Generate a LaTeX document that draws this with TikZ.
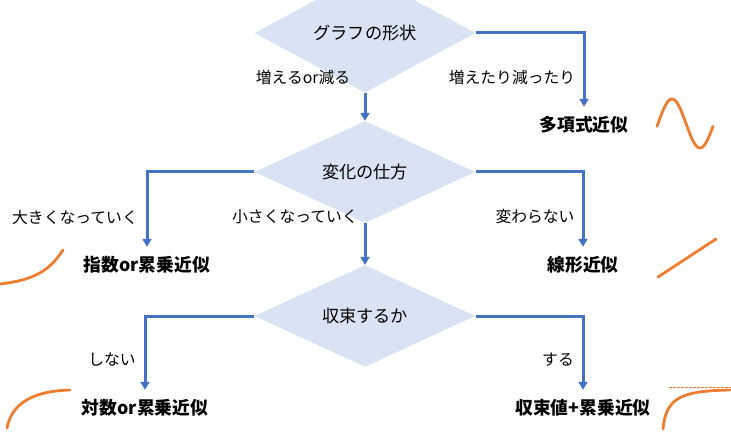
\documentclass[tikz,border=0pt]{standalone}
\usepackage{fontspec}
\setmainfont{Noto Sans CJK JP}
\usetikzlibrary{shapes.geometric,arrows.meta}
\definecolor{cblue}{HTML}{4472C4}
\definecolor{cfill}{HTML}{DAE3F3}
\definecolor{corange}{HTML}{ED7D31}
\tikzset{
  decision/.style={shape=diamond, fill=cfill, draw=none, minimum width=221pt, minimum height=66pt, inner sep=0pt, font=\fontsize{17.2}{20}\selectfont},
  result/.style={inner sep=0pt, minimum height=36pt, font=\bfseries\fontsize{17.8}{20}\selectfont},
  lbl/.style={inner sep=0pt, font=\fontsize{15.8}{18}\selectfont},
  conn/.style={draw=cblue, line width=3pt, -{Triangle[width=9pt,length=8pt]}},
  curve/.style={draw=corange, line width=2.8pt, line cap=round},
}
\begin{document}
\begin{tikzpicture}[x=1pt,y=-1pt]
\useasboundingbox (0,0) rectangle (731,433);
\node[decision] (d1) at (365,33) {グラフの形状};
\node[decision] (d2) at (365,172) {変化の仕方};
\node[decision] (d3) at (365,316) {収束するか};
\node[result] (r1) at (584,125) {多項式近似};
\node[result] (r2) at (147,265) {指数or累乗近似};
\node[result] (r3) at (583,265) {線形近似};
\node[result] (r4) at (145,408) {対数or累乗近似};
\node[result] (r5) at (583,408) {収束値+累乗近似};
\node[lbl] (l1) at (303,77) {増えるor減る};
\node[lbl] (l2) at (512,77) {増えたり減ったり};
\node[lbl] (l3) at (75,217) {大きくなっていく};
\node[lbl] (l4) at (295,217) {小さくなっていく};
\node[lbl] (l5) at (535,217) {変わらない};
\node[lbl] (l6) at (112,360) {しない};
\node[lbl] (l7) at (558,360) {する};
\draw[conn] (d1.east) -| (r1.north);
\draw[conn] (d1.south) -- (d2.north);
\draw[conn] (d2.west) -| (r2.north);
\draw[conn] (d2.east) -| (r3.north);
\draw[conn] (d2.south) -- (d3.north);
\draw[conn] (d3.west) -| (r4.north);
\draw[conn] (d3.east) -| (r5.north);
% orange sketches
\draw[curve] plot[domain=-1:55, samples=60, smooth] ({658+\x}, {123.5 - 24.5*sin(6.4286*\x)});
\draw[curve] (0,284) .. controls (35,280) and (50,270) .. (63,250);
\draw[curve] (658,277) -- (716,239);
\draw[curve] (7,428) .. controls (12,402) and (35,391) .. (70,390);
\draw[draw=corange, line width=0.8pt, dash pattern=on 2.5pt off 1.5pt] (669,387) -- (731,387);
\draw[curve] (663,429) .. controls (666,397) and (682,391) .. (730,390);
\end{tikzpicture}
\end{document}
